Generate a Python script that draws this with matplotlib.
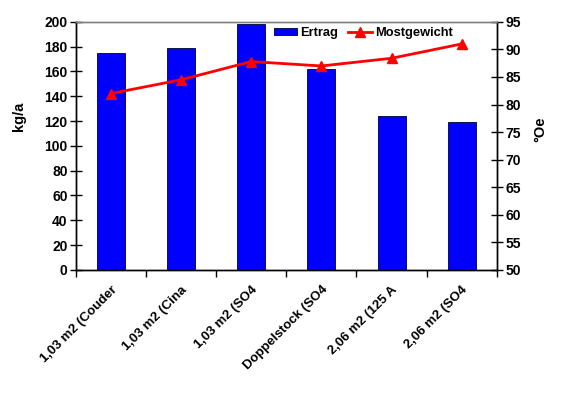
import numpy as np
import matplotlib
matplotlib.use('Agg')
from matplotlib import ticker, pyplot as plt

categories = ['1,03 m2 (Couder', '1,03 m2 (Cina', '1,03 m2 (SO4', 'Doppelstock (SO4', '2,06 m2 (125 A', '2,06 m2 (SO4']
ertrag = [175, 179, 198, 162, 124, 119]
mostgewicht = [82.0, 84.5, 87.8, 87.0, 88.4, 91.0]

plt.rcParams['font.family'] = ['Liberation Sans', 'DejaVu Sans']
plt.rcParams['font.weight'] = 'bold'
plt.rcParams['font.size'] = 10

fig = plt.figure(figsize=(5.71, 3.98), dpi=100)
ax = fig.add_axes([0.133, 0.322, 0.737, 0.623])
x = np.arange(len(categories))
ax.bar(x, ertrag, width=0.4, color='#0000FF', edgecolor='#000033', linewidth=0.6, label='Ertrag', zorder=2)
ax.set_xlim(-0.5, len(categories) - 0.5)
ax.set_ylim(0, 200)
ax.yaxis.set_major_locator(ticker.MultipleLocator(20))
ax.set_ylabel('kg/a', fontsize=10.5, fontweight='bold')
ax.yaxis.set_label_coords(-0.118, 0.62)

ax2 = ax.twinx()
ax2.plot(x, mostgewicht, color='#FF0000', linewidth=2, marker='^', markersize=7, label='Mostgewicht', zorder=3)
ax2.set_ylim(50, 95)
ax2.yaxis.set_major_locator(ticker.MultipleLocator(5))
ax2.set_ylabel('°Oe', fontsize=10.5, fontweight='bold')
ax2.yaxis.set_label_coords(1.088, 0.565)

ax.set_xticks(x)
ax.set_xticklabels(categories, rotation=45, ha='right', rotation_mode='anchor', fontsize=9.5)
ax.set_xticks(np.arange(len(categories) + 1) - 0.5, minor=True)
ax.tick_params(axis='x', which='major', length=0, pad=10)
ax.tick_params(axis='x', which='minor', length=5, direction='out', width=1)
ax.tick_params(axis='y', direction='inout', length=8, width=1, pad=2)
ax2.tick_params(axis='y', direction='inout', length=8, width=1, pad=2)

for a in (ax, ax2):
    a.spines['top'].set_color('#808080')
    a.spines['top'].set_linewidth(1)
    a.spines['left'].set_linewidth(1)
    a.spines['right'].set_linewidth(1)
    a.spines['bottom'].set_linewidth(1)

h1, l1 = ax.get_legend_handles_labels()
h2, l2 = ax2.get_legend_handles_labels()
ax2.legend(h1 + h2, l1 + l2, loc='upper left', bbox_to_anchor=(0.442, 1.025), ncol=2, frameon=False,
           fontsize=9.3, handlelength=1.8, handleheight=0.5, handletextpad=0.25, columnspacing=0.8)

fig.savefig('out.png', dpi=100)
